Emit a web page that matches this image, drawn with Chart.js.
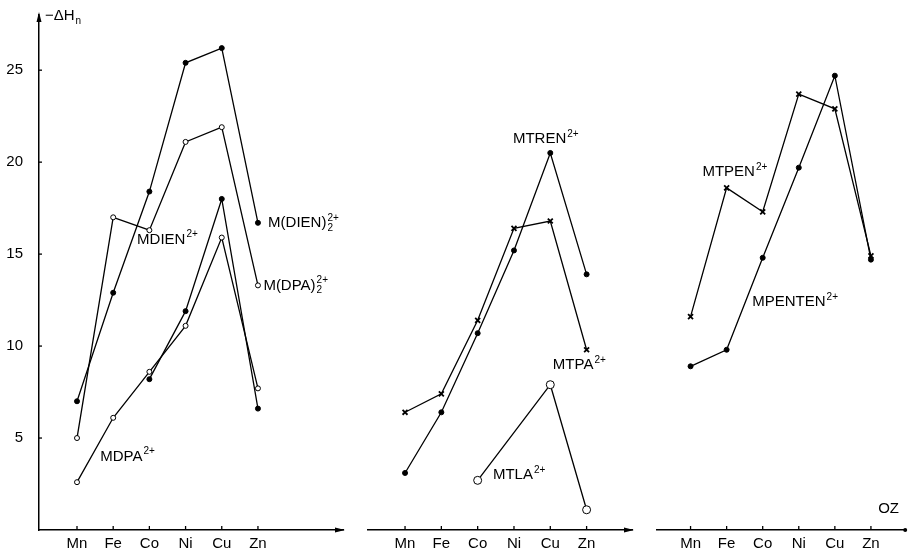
<!DOCTYPE html>
<html>
<head>
<meta charset="utf-8">
<script src="https://cdn.jsdelivr.net/npm/chart.js@4.4.0/dist/chart.umd.min.js"></script>
<style>
  body { margin: 0; background: #fff; }
  #wrap { position: relative; width: 911px; height: 550px; }
  #wrap canvas { position: absolute; left: 0; top: 0; }
</style>
</head>
<body>
<div id="wrap">
  <canvas id="c1" width="911" height="550"></canvas>
  <canvas id="c2" width="911" height="550"></canvas>
  <canvas id="c3" width="911" height="550"></canvas>
</div>
<script>
const metals = ["Mn", "Fe", "Co", "Ni", "Cu", "Zn"];
const yTicks = [5, 10, 15, 20, 25];

// left panel
const mDien2 = [7.0, 12.9, 18.4, 25.4, 26.2, 16.7];
const mDpa2 = [5.0, 17.0, 16.3, 21.1, 21.9, 13.3];
const mDien = [null, null, 8.2, 11.9, 18.0, 6.6];
const mDpa = [2.6, 6.1, 8.6, 11.1, 15.9, 7.7];
// middle panel
const mTren = [3.1, 6.4, 10.7, 15.2, 20.5, 13.9];
const mTpa = [6.4, 7.4, 11.4, 16.4, 16.8, 9.8];
const mTla = [null, null, 2.7, null, 7.9, 1.1];
// right panel
const mTpen = [11.6, 18.6, 17.3, 23.7, 22.9, 14.9];
const mPenten = [8.9, 9.8, 14.8, 19.7, 24.7, 14.7];

const FONT = '"Liberation Sans", Arial, sans-serif';

function pts(arr) {
  return arr.map((v, i) => ({ x: i, y: v })).filter(p => p.y !== null);
}

function series(arr, kind) {
  const ds = {
    data: pts(arr),
    borderColor: "#000",
    borderWidth: 1.3,
    tension: 0,
    pointBorderColor: "#000",
    pointBorderWidth: 1,
    pointRadius: 2.5,
    pointStyle: "circle",
    pointBackgroundColor: "#000"
  };
  if (kind === "open") ds.pointBackgroundColor = "#fff";
  if (kind === "bigopen") { ds.pointBackgroundColor = "#fff"; ds.pointRadius = 4; }
  if (kind === "cross") { ds.pointStyle = "crossRot"; ds.pointRadius = 3.5; ds.pointBorderWidth = 1.8; }
  return ds;
}

function drawLabel(ctx, lab, px, py) {
  ctx.save();
  ctx.fillStyle = "#000";
  ctx.textBaseline = "middle";
  ctx.textAlign = "left";
  ctx.font = "15px " + FONT;
  ctx.fillText(lab.text, px, py);
  const w = ctx.measureText(lab.text).width;
  ctx.font = "10px " + FONT;
  if (lab.sup) ctx.fillText(lab.sup, px + w + 1, py - 5);
  if (lab.sub) ctx.fillText(lab.sub, px + w + 1, py + 5);
  ctx.restore();
}

// panel decorations: axis ticks, arrows, text labels
const decor = {
  id: "decor",
  afterDraw(chart, args, opts) {
    const ctx = chart.ctx;
    const a = chart.chartArea;
    const xs = chart.scales.x;
    const ys = chart.scales.y;
    ctx.save();
    ctx.strokeStyle = "#000";
    ctx.fillStyle = "#000";
    ctx.lineWidth = 1.3;
    xs.ticks.forEach(t => {
      const px = xs.getPixelForValue(t.value);
      ctx.beginPath();
      ctx.moveTo(px, a.bottom);
      ctx.lineTo(px, a.bottom - 4);
      ctx.stroke();
    });
    // end of x axis
    ctx.beginPath();
    if (opts.endDot) {
      ctx.arc(a.right, a.bottom, 2, 0, Math.PI * 2);
    } else {
      ctx.moveTo(a.right + 2, a.bottom);
      ctx.lineTo(a.right - 8, a.bottom - 2.5);
      ctx.lineTo(a.right - 8, a.bottom + 2.5);
      ctx.closePath();
    }
    ctx.fill();
    if (opts.yAxis) {
      yTicks.forEach(v => {
        const py = ys.getPixelForValue(v);
        ctx.beginPath();
        ctx.moveTo(a.left, py);
        ctx.lineTo(a.left + 3, py);
        ctx.stroke();
      });
      ctx.beginPath();
      ctx.moveTo(a.left, a.top - 3);
      ctx.lineTo(a.left - 2.5, a.top + 7);
      ctx.lineTo(a.left + 2.5, a.top + 7);
      ctx.closePath();
      ctx.fill();
      drawLabel(ctx, { text: "\u2212\u0394H", sub: "n" }, a.left + 6, a.top + 1);
    }
    ctx.restore();
    (opts.labels || []).forEach(lab => {
      drawLabel(ctx, lab, xs.getPixelForValue(lab.x), ys.getPixelForValue(lab.y));
    });
  }
};

function makePanel(id, datasets, cfg) {
  new Chart(document.getElementById(id), {
    type: "line",
    data: { datasets: datasets },
    plugins: [decor],
    options: {
      responsive: false,
      animation: false,
      layout: { padding: { left: cfg.padLeft, right: cfg.padRight, top: 15, bottom: 0 } },
      plugins: {
        legend: { display: false },
        tooltip: { enabled: false },
        decor: { labels: cfg.labels, yAxis: cfg.yAxis, endDot: cfg.endDot }
      },
      scales: {
        x: {
          type: "linear",
          min: cfg.xMin,
          max: cfg.xMax,
          afterBuildTicks: s => { s.ticks = metals.map((m, i) => ({ value: i })); },
          afterFit: s => { s.height = 20; s.paddingLeft = 0; s.paddingRight = 0; },
          grid: { display: true, drawOnChartArea: false, drawTicks: false },
          border: { display: true, color: "#000", width: 1.5 },
          ticks: {
            padding: 5,
            color: "#000",
            font: { family: FONT, size: 15 },
            callback: v => metals[v]
          }
        },
        y: {
          display: cfg.yAxis,
          min: 0,
          max: 28,
          afterBuildTicks: s => { s.ticks = yTicks.map(v => ({ value: v })); },
          afterFit: s => {
            if (cfg.yAxis) s.width = 39;
            s.paddingTop = 0;
            s.paddingBottom = 0;
          },
          grid: { display: true, drawOnChartArea: false, drawTicks: false },
          border: { display: true, color: "#000", width: 1.5 },
          ticks: {
            padding: 16,
            color: "#000",
            font: { family: FONT, size: 15 }
          }
        }
      }
    }
  });
}

makePanel("c1", [
  series(mDien2, "filled"),
  series(mDpa2, "open"),
  series(mDien, "filled"),
  series(mDpa, "open")
], {
  padLeft: 0, padRight: 568, xMin: -1.05, xMax: 7.35, yAxis: true,
  labels: [
    { text: "M(DIEN)", sub: "2", sup: "2+", x: 5.28, y: 16.7 },
    { text: "M(DPA)", sub: "2", sup: "2+", x: 5.15, y: 13.3 },
    { text: "MDIEN", sup: "2+", x: 1.66, y: 15.8 },
    { text: "MDPA", sup: "2+", x: 0.64, y: 4.0 }
  ]
});

makePanel("c2", [
  series(mTren, "filled"),
  series(mTpa, "cross"),
  Object.assign(series(mTla, "bigopen"), { spanGaps: true })
], {
  padLeft: 368, padRight: 279, xMin: -1.02, xMax: 6.25, yAxis: false,
  labels: [
    { text: "MTREN", sup: "2+", x: 2.97, y: 21.25 },
    { text: "MTPA", sup: "2+", x: 4.07, y: 8.97 },
    { text: "MTLA", sup: "2+", x: 2.42, y: 3.0 }
  ]
});

makePanel("c3", [
  series(mTpen, "cross"),
  series(mPenten, "filled")
], {
  padLeft: 657, padRight: 1, xMin: -0.93, xMax: 5.95, yAxis: false, endDot: true,
  labels: [
    { text: "MTPEN", sup: "2+", x: 0.33, y: 19.46 },
    { text: "MPENTEN", sup: "2+", x: 1.71, y: 12.4 },
    { text: "OZ", x: 5.2, y: 1.14 }
  ]
});
</script>
</body>
</html>
